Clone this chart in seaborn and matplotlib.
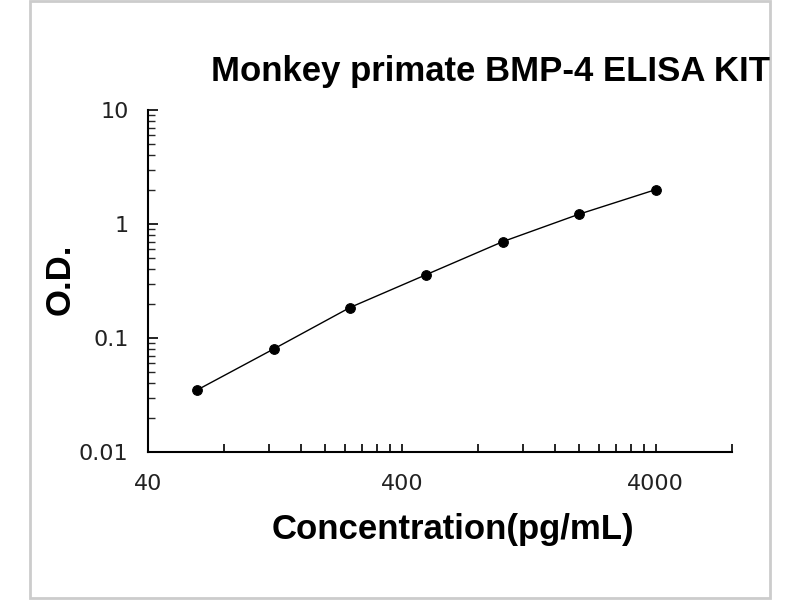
import matplotlib
matplotlib.use("Agg")
import matplotlib.pyplot as plt
from matplotlib.ticker import FixedLocator, LogLocator, NullFormatter, FuncFormatter
from matplotlib.patches import Rectangle
import seaborn as sns
import pandas as pd

# standard curve
concentration = [62.5, 125, 250, 500, 1000, 2000, 4000]
od = [0.035, 0.080, 0.185, 0.36, 0.70, 1.22, 2.0]

x_major = [40, 400, 4000]
x_minor = [80, 120, 160, 200, 240, 280, 320, 360,
           800, 1200, 1600, 2000, 2400, 2800, 3200, 3600, 8000]
y_major = [0.01, 0.1, 1, 10]
y_labels = ["0.01", "0.1", "1", "10"]

df = pd.DataFrame({"conc": concentration, "od": od})

sns.set_style("ticks")
plt.rcParams['font.family'] = ['Liberation Sans', 'DejaVu Sans']

fig = plt.figure(figsize=(8, 6), dpi=100)
ax = fig.add_axes([0.185, 0.2467, 0.73, 0.57])

sns.lineplot(data=df, x="conc", y="od", marker="o", color="black",
             linewidth=1.0, markersize=7, markeredgecolor="black", ax=ax)

ax.set_xscale("log")
ax.set_yscale("log")
ax.set_xlim(40, 8000)
ax.set_ylim(0.01, 10)

ax.xaxis.set_major_locator(FixedLocator(x_major))
ax.xaxis.set_minor_locator(FixedLocator(x_minor))
ax.xaxis.set_major_formatter(FuncFormatter(lambda v, p: f"{v:g}"))
ax.xaxis.set_minor_formatter(NullFormatter())
ax.yaxis.set_major_locator(FixedLocator(y_major))
ax.yaxis.set_minor_locator(LogLocator(base=10, subs=range(2, 10)))
ax.set_yticklabels(y_labels)
ax.yaxis.set_minor_formatter(NullFormatter())

sns.despine(ax=ax)
for sp in ("left", "bottom"):
    ax.spines[sp].set_linewidth(1.5)
    ax.spines[sp].set_color("black")

ax.tick_params(axis="x", which="both", direction="in", length=6, width=1.2,
               pad=16, colors="black")
ax.tick_params(axis="y", which="major", direction="in", length=7, width=1.2,
               pad=14, colors="black")
ax.tick_params(axis="y", which="minor", direction="in", length=5, width=1.0)
for lab in ax.get_xticklabels() + ax.get_yticklabels():
    lab.set_color("#222222")
    lab.set_family("DejaVu Sans")
    lab.set_fontsize(16)

ax.set_xlabel("")
ax.set_ylabel("")

fig.text(0.6125, 0.881, "Monkey primate BMP-4 ELISA KIT", ha="center", va="center",
         fontsize=25, fontweight="bold", color="black")
fig.text(0.566, 0.117, "Concentration(pg/mL)", ha="center", va="center",
         fontsize=25, fontweight="bold", color="black")
fig.text(0.075, 0.535, "O.D.", ha="center", va="center", rotation=90,
         fontsize=25, fontweight="bold", color="black")

# light grey frame around the picture
fig.patches.append(Rectangle((0.038, 0.004), 0.925, 0.994, transform=fig.transFigure,
                             fill=False, edgecolor="#cccccc", linewidth=2))

fig.savefig("out.png", dpi=100)
